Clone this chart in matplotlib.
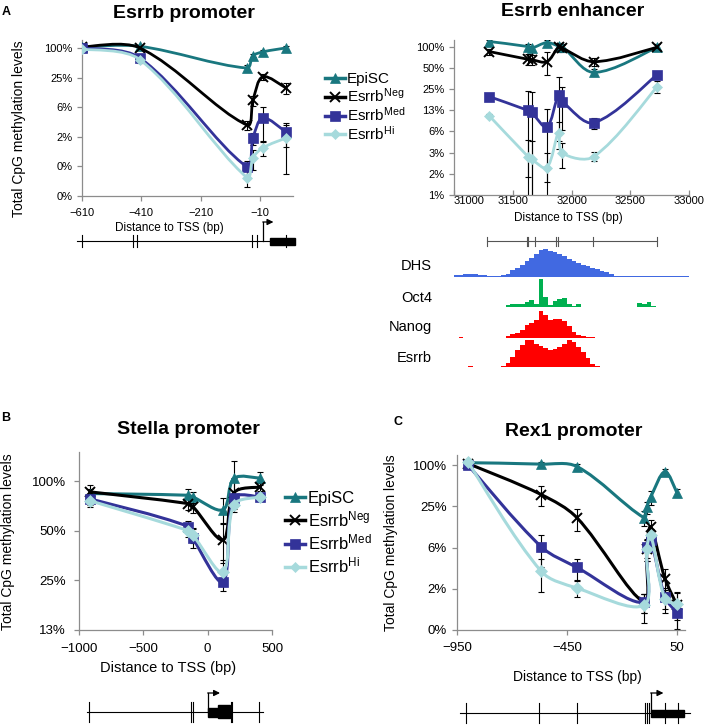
import numpy as np
import matplotlib
matplotlib.use("Agg")
import matplotlib.pyplot as plt
from matplotlib.path import Path
from matplotlib.patches import PathPatch, Rectangle
from matplotlib.lines import Line2D
from matplotlib.ticker import NullLocator

plt.rcParams["font.family"] = ["Liberation Sans", "DejaVu Sans"]
plt.rcParams["mathtext.fontset"] = "custom"
plt.rcParams["mathtext.rm"] = "Liberation Sans"
plt.rcParams["mathtext.it"] = "Liberation Sans:italic"
plt.rcParams["mathtext.bf"] = "Liberation Sans:bold"

W, H = 709, 726

# ---- data -------------------------------------------------------------
labels = ["EpiSC", r"Esrrb$^{\mathrm{Neg}}$", r"Esrrb$^{\mathrm{Med}}$", r"Esrrb$^{\mathrm{Hi}}$"]

# Esrrb promoter
prom_x = [-610, -415, -53, -33, 0, 78]
prom_epi = [1.05, 1.08, 0.39, 0.69, 0.83, 1.0]
prom_neg = [1.05, 1.0, 0.027, 0.087, 0.26, 0.154]
prom_med = [1.0, 0.63, 0.0038, 0.0147, 0.038, 0.0196]
prom_hi = [0.95, 0.58, 0.0023, 0.0058, 0.0093, 0.0147]
prom_epi_err = [0.05, 0.05, 0.06, 0.05, 0.08, 0.1]
prom_neg_err = [0.05, 0.08, 0.006, 0.02, 0.04, 0.04]
prom_med_err = [0.05, 0.08, 0.0012, 0.004, 0.025, 0.01]
prom_hi_err = [0.05, 0.08, 0.0008, 0.0025, 0.003, 0.012]
prom_sites = [-611, -437, -425, -38, -21, 80]

# Esrrb enhancer
enh_x = [31300, 31630, 31660, 31790, 31890, 31920, 32190, 32730]
enh_epi = [1.18, 1.0, 0.95, 1.14, 1.02, 1.0, 0.43, 0.98]
enh_neg = [0.85, 0.66, 0.65, 0.61, 0.98, 0.95, 0.61, 0.98]
enh_med = [0.195, 0.124, 0.116, 0.072, 0.206, 0.166, 0.083, 0.40]
enh_hi = [0.104, 0.0274, 0.025, 0.0191, 0.060, 0.031, 0.0274, 0.27]
enh_epi_err = [0.05, 0.08, 0.08, 0.1, 0.1, 0.1, 0.05, 0.1]
enh_neg_err = [0.08, 0.12, 0.1, 0.22, 0.15, 0.1, 0.08, 0.1]
enh_med_err = [0.01, 0.11, 0.11, 0.06, 0.16, 0.1, 0.015, 0.03]
enh_hi_err = [0.005, 0.02, 0.02, 0.012, 0.025, 0.012, 0.004, 0.05]
enh_sites = [31278, 31619, 31633, 31689, 31868, 31888, 32180, 32725]

# tracks below the enhancer (40 bp bins from 31000 bp)
track_start, track_bin = 31000, 40
dhs = [5, 7, 8, 8, 8, 6, 5, 4, 4, 4, 5, 9, 20, 27, 35, 48, 57, 68, 82, 84,
       78, 76, 70, 62, 55, 47, 42, 37, 33, 28, 24, 19, 14, 8, 3, 3, 3, 4, 4, 3,
       3, 4, 3, 4, 4, 3, 3, 4, 3, 3]
oct4 = [1, 1, 0, 0, 0, 0, 0, 0, 0, 0, 0, 5, 8, 10, 8, 14, 22, 8, 85, 30,
        6, 18, 24, 27, 10, 2, 8, 0, 0, 1, 0, 1, 0, 0, 1, 0, 1, 0, 0, 12,
        8, 15, 4, 1, 1, 0, 0, 0, 0, 0]
nanog = [1, 2, 1, 0, 0, 0, 0, 1, 1, 0, 0, 5, 12, 15, 25, 38, 44, 55, 82, 70,
         55, 58, 56, 50, 35, 18, 10, 7, 3, 2, 1, 1, 0, 0, 0, 0, 1, 0, 0, 0,
         0, 0, 1, 0, 0, 0, 1, 0, 0, 0]
esrrb = [0, 0, 0, 2, 1, 0, 0, 0, 0, 0, 2, 12, 30, 50, 66, 80, 80, 70, 62, 57,
         52, 55, 60, 70, 82, 74, 60, 44, 28, 10, 2, 1, 1, 0, 0, 1, 1, 0, 1, 1,
         1, 0, 1, 1, 0, 1, 1, 0, 1, 0]
track_names = ["DHS", "Oct4", "Nanog", "Esrrb"]
track_colors = ["#4169e1", "#00b050", "#ff0000", "#ff0000"]

# Stella promoter
stella_x = [-915, -150, -115, 120, 205, 410]
stella_epi = [0.84, 0.82, 0.80, 0.67, 1.04, 1.04]
stella_neg = [0.86, 0.73, 0.70, 0.44, 0.85, 0.92]
stella_med = [0.78, 0.53, 0.45, 0.245, 0.79, 0.80]
stella_hi = [0.76, 0.50, 0.47, 0.28, 0.72, 0.80]
stella_epi_err = [0.06, 0.08, 0.06, 0.12, 0.28, 0.1]
stella_neg_err = [0.08, 0.06, 0.06, 0.12, 0.2, 0.05]
stella_med_err = [0.06, 0.04, 0.06, 0.03, 0.05, 0.04]
stella_hi_err = [0.06, 0.04, 0.05, 0.05, 0.04, 0.04]
stella_sites = [-920, -131, -111, 185, 192, 402]

# Rex1 promoter
rex_x = [-900, -567, -405, -100, -88, -70, -5, 50]
rex_epi = [1.08, 1.03, 0.95, 0.17, 0.24, 0.34, 0.80, 0.39]
rex_neg = [1.05, 0.37, 0.17, 0.010, 0.06, 0.125, 0.022, 0.009]
rex_med = [1.0, 0.064, 0.032, 0.010, 0.064, 0.08, 0.0119, 0.0069]
rex_hi = [1.1, 0.028, 0.016, 0.0090, 0.06, 0.095, 0.011, 0.0094]
rex_epi_err = [0.05, 0.08, 0.08, 0.04, 0.05, 0.08, 0.08, 0.05]
rex_neg_err = [0.05, 0.12, 0.06, 0.003, 0.02, 0.03, 0.008, 0.005]
rex_med_err = [0.05, 0.032, 0.011, 0.003, 0.02, 0.02, 0.004, 0.003]
rex_hi_err = [0.05, 0.014, 0.004, 0.004, 0.02, 0.02, 0.004, 0.004]
rex_sites = [-909, -576, -406, -95, -85, -76, -5, 53]

log4_ticks = [4.0 ** -5, 4.0 ** -4, 4.0 ** -3, 4.0 ** -2, 4.0 ** -1, 1.0]
log4_labels = ["0%", "0%", "2%", "6%", "25%", "100%"]
log2_ticks = [2.0 ** -7, 2.0 ** -6, 2.0 ** -5, 2.0 ** -4, 2.0 ** -3, 2.0 ** -2, 2.0 ** -1, 1.0]
log2_labels = ["1%", "2%", "3%", "6%", "13%", "25%", "50%", "100%"]

# ---- styles -----------------------------------------------------------
TEAL, NAVY, LIGHT = "#19777f", "#333399", "#a6dadc"
AXGRAY = "#8c8c8c"
styles = [
    dict(color=TEAL, marker="^", ms=7, mew=0.5),
    dict(color="black", marker="x", ms=7, mew=1.4),
    dict(color=NAVY, marker="s", ms=7, mew=0.5),
    dict(color=LIGHT, marker="D", ms=5.5, mew=0.5),
]

fig = plt.figure(figsize=(W / 100, H / 100), dpi=100)


def px_axes(left, top, right, bottom):
    return fig.add_axes([left / W, 1 - bottom / H, (right - left) / W, (bottom - top) / H])


def smooth_line(ax, x, y, color, lw, z):
    # excel style smoothed line, computed on screen, chord length scaled tangents
    pts = ax.transData.transform(np.column_stack([x, y]).astype(float))
    n = len(pts)
    verts = [pts[0]]
    codes = [Path.MOVETO]
    d = np.hypot(*np.diff(pts, axis=0).T)
    for i in range(n - 1):
        a = max(i - 1, 0)
        b = min(i + 2, n - 1)
        t0 = pts[i + 1] - pts[a]
        t1 = pts[b] - pts[i]
        if i > 0:
            c1 = pts[i] + t0 * d[i] / (d[i - 1] + d[i]) / 3
        else:
            c1 = pts[i] + t0 / 6
        if i + 2 < n:
            c2 = pts[i + 1] - t1 * d[i] / (d[i] + d[i + 1]) / 3
        else:
            c2 = pts[i + 1] - t1 / 6
        verts += [c1, c2, pts[i + 1]]
        codes += [Path.CURVE4] * 3
    verts = ax.transData.inverted().transform(np.array(verts))
    ax.add_patch(PathPatch(Path(verts, codes), fill=False, edgecolor=color, lw=lw,
                           zorder=z, capstyle="round", joinstyle="round"))


def draw_series(ax, x, ys, errs, lw, msc=1.0):
    for y, e in zip(ys, errs):
        ax.errorbar(x, y, yerr=e, fmt="none", ecolor="black", elinewidth=0.8,
                    capsize=2.5, capthick=0.8, zorder=2)
    for k, (y, st) in enumerate(zip(ys, styles)):
        smooth_line(ax, x, y, st["color"], lw, 3 + k)
        ax.plot(x, y, linestyle="none", marker=st["marker"], ms=st["ms"] * msc,
                mew=st["mew"], color=st["color"], mec=st["color"], zorder=3.5 + k)


def style_axes(ax, fs, xpad, ypad, xdir="out"):
    for s in ["top", "right"]:
        ax.spines[s].set_visible(False)
    for s in ["left", "bottom"]:
        ax.spines[s].set_color(AXGRAY)
        ax.spines[s].set_linewidth(0.9)
    ax.yaxis.set_minor_locator(NullLocator())
    ax.tick_params(axis="both", colors=AXGRAY, labelcolor="black", labelsize=fs,
                   length=3.5, width=0.9, direction="out")
    ax.tick_params(axis="x", pad=xpad, direction=xdir)
    ax.tick_params(axis="y", pad=ypad)


def gene_axes(left, right, top, bottom, xlim):
    g = px_axes(left, top, right, bottom)
    g.set_xlim(xlim)
    g.set_ylim(bottom, top)
    g.axis("off")
    return g


def draw_sites(g, start, end, sites, y, half, color="black"):
    g.plot([start, end], [y, y], color=color, lw=0.8, clip_on=False)
    for s in sites:
        g.plot([s, s], [y - half, y + half], color=color, lw=0.8, clip_on=False)


def draw_tss(g, x0, x1, y, ytop):
    g.plot([x0, x0], [y, ytop], color="black", lw=0.9, clip_on=False)
    g.annotate("", xy=(x1, ytop), xytext=(x0, ytop), annotation_clip=False,
               arrowprops=dict(arrowstyle="-|>", color="black", lw=0.9,
                               mutation_scale=9, shrinkA=0, shrinkB=0))


# ---- A: Esrrb promoter -----------------------------------------------
ax1 = px_axes(82, 40, 293, 196)
ax1.set_yscale("log", base=4)
ax1.set_ylim(4.0 ** -5, 1.45)
ax1.set_xlim(-610, 102)
draw_series(ax1, prom_x, [prom_epi, prom_neg, prom_med, prom_hi],
            [prom_epi_err, prom_neg_err, prom_med_err, prom_hi_err], lw=2.0)
ax1.set_yticks(log4_ticks, log4_labels)
ax1.set_xticks([-610, -410, -210, -10])
style_axes(ax1, 8, 5, 3.5)
fig.text(169 / W, 1 - 228 / H, "Distance to TSS (bp)", ha="center", va="center", fontsize=8.5)
fig.text(19 / W, 1 - 129 / H, "Total CpG methylation levels", ha="center", va="center",
         rotation=90, fontsize=10)
fig.text(184 / W, 1 - 13 / H, "Esrrb promoter", ha="center", va="center",
         fontsize=14, fontweight="bold")
fig.text(2 / W, 1 - 12 / H, "A", ha="left", va="center", fontsize=9, fontweight="bold")

g1 = gene_axes(82, 293, 215, 250, ax1.get_xlim())
draw_sites(g1, -627, 24, prom_sites, 241, 6)
g1.add_patch(Rectangle((24, 238), 84, 7, color="black", clip_on=False))
draw_tss(g1, 0, 36, 241, 222)

# legend A
handles = [Line2D([], [], color=st["color"], lw=2.5, marker=st["marker"], ms=st["ms"],
                  mew=st["mew"]) for st in styles]
fig.legend(handles, labels, loc="upper left", bbox_to_anchor=(325 / W, 1 - 72 / H),
           frameon=False, fontsize=11, handlelength=1.3, handletextpad=0.15,
           labelspacing=0.05, borderaxespad=0, borderpad=0)

# ---- A: Esrrb enhancer -----------------------------------------------
ax2 = px_axes(454, 40, 689, 195)
ax2.set_yscale("log", base=2)
ax2.set_ylim(2.0 ** -7, 1.24)
ax2.set_xlim(31000, 33000)
draw_series(ax2, enh_x, [enh_epi, enh_neg, enh_med, enh_hi],
            [enh_epi_err, enh_neg_err, enh_med_err, enh_hi_err], lw=2.0)
ax2.set_yticks(log2_ticks, log2_labels)
ax2.set_xticks([31000, 31500, 32000, 32500, 33000])
style_axes(ax2, 8, 1, 3.5, xdir="in")
ax2.get_xticklabels()[0].set_horizontalalignment("left")
fig.text(568 / W, 1 - 218 / H, "Distance to TSS (bp)", ha="center", va="center", fontsize=8.5)
fig.text(573 / W, 1 - 12 / H, "Esrrb enhancer", ha="center", va="center",
         fontsize=14, fontweight="bold")

g2 = gene_axes(454, 689, 230, 250, ax2.get_xlim())
draw_sites(g2, enh_sites[0], enh_sites[-1], enh_sites, 241, 4.5, color="#555555")

track_rows = [(247, 277), (277, 307), (308, 338), (337, 367)]
track_label_y = [266, 298, 327, 358]
edges = track_start + track_bin * np.arange(len(dhs) + 1)
for vals, name, col, (tt, bb), ly in zip([dhs, oct4, nanog, esrrb], track_names,
                                         track_colors, track_rows, track_label_y):
    ta = px_axes(454, tt, 689, bb)
    ta.stairs(vals, edges, fill=True, color=col, lw=0)
    ta.set_xlim(31000, 33000)
    ta.set_ylim(0, 90)
    ta.axis("off")
    fig.text(432 / W, 1 - ly / H, name, ha="right", va="center", fontsize=10.5)

# ---- B: Stella promoter ------------------------------------------------
ax3 = px_axes(79, 452, 272, 630)
ax3.set_yscale("log", base=2)
ax3.set_ylim(0.125, 1.5)
ax3.set_xlim(-1000, 500)
draw_series(ax3, stella_x, [stella_epi, stella_neg, stella_med, stella_hi],
            [stella_epi_err, stella_neg_err, stella_med_err, stella_hi_err], lw=2.2, msc=1.1)
ax3.set_yticks([0.125, 0.25, 0.5, 1.0], ["13%", "25%", "50%", "100%"])
ax3.set_xticks([-1000, -500, 0, 500])
style_axes(ax3, 9.5, 6, 6)
fig.text(168 / W, 1 - 668 / H, "Distance to TSS (bp)", ha="center", va="center", fontsize=10.5)
fig.text(8 / W, 1 - 542 / H, "Total CpG methylation levels", ha="center", va="center",
         rotation=90, fontsize=10)
fig.text(188 / W, 1 - 430 / H, "Stella promoter", ha="center", va="center",
         fontsize=14, fontweight="bold")
fig.text(1 / W, 1 - 418 / H, "B", ha="left", va="center", fontsize=9, fontweight="bold")

g3 = gene_axes(79, 272, 685, 725, ax3.get_xlim())
draw_sites(g3, -935, 433, stella_sites, 712, 10)
g3.add_patch(Rectangle((0, 708), 96, 9, color="black", clip_on=False))
g3.add_patch(Rectangle((83, 705), 91, 13, color="black", clip_on=False))
draw_tss(g3, 0, 96, 712, 693)

fig.legend(handles, labels, loc="upper left", bbox_to_anchor=(285 / W, 1 - 491 / H),
           frameon=False, fontsize=12, handlelength=1.2, handletextpad=0.15,
           labelspacing=0.2, borderaxespad=0, borderpad=0)

# ---- C: Rex1 promoter --------------------------------------------------
ax4 = px_axes(457, 455, 685, 630)
ax4.set_yscale("log", base=4)
ax4.set_ylim(4.0 ** -4, 1.4)
ax4.set_xlim(-950, 86)
draw_series(ax4, rex_x, [rex_epi, rex_neg, rex_med, rex_hi],
            [rex_epi_err, rex_neg_err, rex_med_err, rex_hi_err], lw=2.2, msc=1.1)
ax4.set_yticks(log4_ticks[1:], log4_labels[1:])
ax4.set_xticks([-950, -450, 50])
style_axes(ax4, 9.5, 5, 4)
fig.text(577 / W, 1 - 677 / H, "Distance to TSS (bp)", ha="center", va="center", fontsize=10)
fig.text(391 / W, 1 - 543 / H, "Total CpG methylation levels", ha="center", va="center",
         rotation=90, fontsize=10)
fig.text(574 / W, 1 - 432 / H, "Rex1 promoter", ha="center", va="center",
         fontsize=14, fontweight="bold")
fig.text(394 / W, 1 - 422 / H, "C", ha="left", va="center", fontsize=9, fontweight="bold")

g4 = gene_axes(457, 685, 685, 725, ax4.get_xlim())
draw_sites(g4, -936, 109, rex_sites, 713, 10)
g4.add_patch(Rectangle((-70, 710), 152, 7, color="black", clip_on=False))
draw_tss(g4, -70, -12, 713, 693)

fig.savefig("out.png", dpi=100)
